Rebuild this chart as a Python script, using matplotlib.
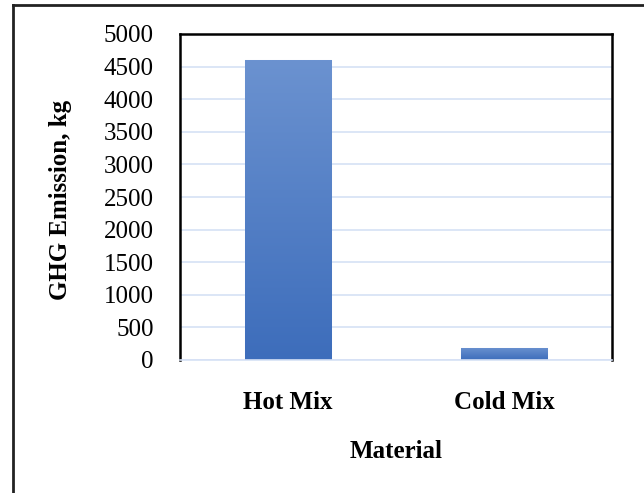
import numpy as np
import matplotlib
matplotlib.use("Agg")
import matplotlib.pyplot as plt
from matplotlib.colors import LinearSegmentedColormap
from matplotlib.lines import Line2D

categories = ["Hot Mix", "Cold Mix"]
emissions = [4600, 190]
y_ticks = [0, 500, 1000, 1500, 2000, 2500, 3000, 3500, 4000, 4500, 5000]

plt.rcParams["font.family"] = ["Liberation Serif", "DejaVu Serif"]

fig = plt.figure(figsize=(6.44, 4.93), dpi=100)
ax = fig.add_axes([180 / 644, 1 - 360 / 493, 432 / 644, 326 / 493])

x = np.arange(len(categories))
bars = ax.bar(x, emissions, width=0.4, color="#4f7ec4",
              edgecolor="#dce6f4", linewidth=0.8, zorder=2)

# vertical gradient fill for each bar
cmap = LinearSegmentedColormap.from_list("barfill", ["#3d6dbb", "#6b92d0"])
grad = np.linspace(0, 1, 256).reshape(-1, 1)
for b in bars:
    x0, y0 = b.get_x(), b.get_y()
    w, h = b.get_width(), b.get_height()
    im = ax.imshow(grad, cmap=cmap, aspect="auto", origin="lower",
                   extent=[x0, x0 + w, y0, y0 + h], zorder=2.5)
    im.set_clip_path(b)

ax.set_xlim(-0.5, 1.5)
ax.set_ylim(0, 5000)
ax.set_yticks(y_ticks)
ax.set_yticklabels([str(t) for t in y_ticks], fontsize=18)
ax.set_xticks(x)
ax.set_xticklabels(categories, fontsize=18, fontweight="bold")
ax.tick_params(axis="both", length=0)
ax.tick_params(axis="y", pad=19)
ax.tick_params(axis="x", pad=22)

ax.grid(axis="y", color="#d6e1f5", linewidth=1.2, zorder=0)
ax.set_axisbelow(True)

for side in ("left", "right", "top"):
    ax.spines[side].set_color("black")
    ax.spines[side].set_linewidth(1.8)
ax.spines["bottom"].set_color("#d6e1f5")
ax.spines["bottom"].set_linewidth(1.2)

ax.set_xlabel("Material", fontsize=18, fontweight="bold")
ax.set_ylabel("GHG Emission, kg", fontsize=18, fontweight="bold")
ax.xaxis.set_label_coords(0.5, (360 - 451) / 326)
ax.xaxis.label.set_va("center")
ax.yaxis.set_label_coords((61 - 180) / 432, 0.49)
ax.yaxis.label.set_va("center")

# outer chart-area frame (left and top edges visible)
fig.add_artist(Line2D([13 / 644, 13 / 644], [0, 1 - 5 / 493],
                      transform=fig.transFigure, color="#222222", linewidth=2))
fig.add_artist(Line2D([13 / 644, 1], [1 - 5 / 493, 1 - 5 / 493],
                      transform=fig.transFigure, color="#222222", linewidth=2))

fig.savefig("out.png", dpi=100)
